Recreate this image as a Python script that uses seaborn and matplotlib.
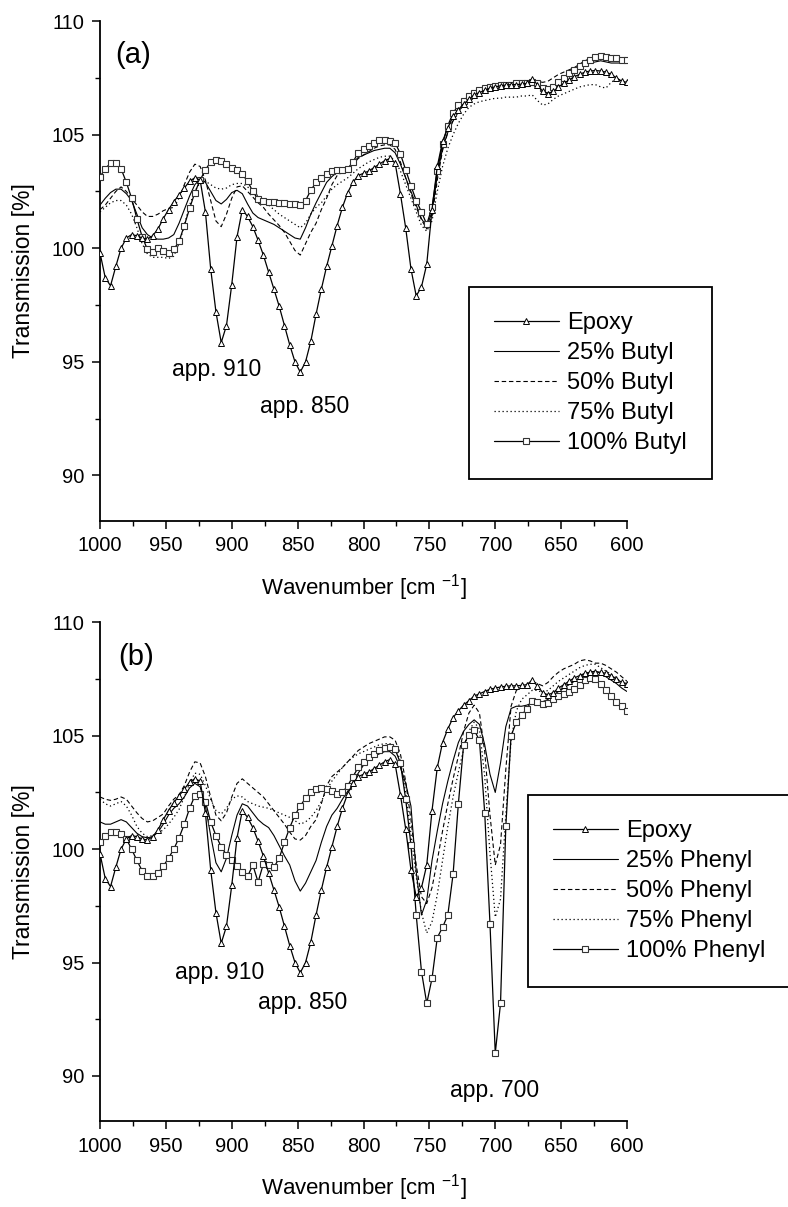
import matplotlib
matplotlib.use("Agg")
import matplotlib.pyplot as plt
import pandas as pd
import seaborn as sns
from matplotlib.ticker import MultipleLocator

# Wavenumber grid of the FTIR spectra (cm^-1), 4 cm^-1 spacing
WAVENUMBER = list(range(1000, 599, -4))

# Transmission [%] per sample, one value per wavenumber above
EPOXY = [
    99.8, 98.7, 98.35, 99.2, 100.0, 100.45, 100.6, 100.55, 100.45, 100.4,
    100.55, 100.85, 101.3, 101.7, 102.05, 102.35, 102.65, 102.95, 103.1, 103.0,
    101.6, 99.1, 97.2, 95.85, 96.6, 98.4, 100.5, 101.7, 101.4, 100.95,
    100.35, 99.7, 98.95, 98.2, 97.45, 96.6, 95.75, 95.0, 94.55, 95.0,
    95.9, 97.1, 98.2, 99.2, 100.1, 101.0, 101.8, 102.45, 102.9, 103.2,
    103.3, 103.4, 103.55, 103.7, 103.85, 103.95, 103.75, 102.4, 100.9, 99.1,
    97.9, 98.3, 99.3, 101.7, 103.6, 104.7, 105.3, 105.8, 106.1, 106.35,
    106.55, 106.75, 106.85, 106.95, 107.05, 107.1, 107.15, 107.18, 107.2, 107.2,
    107.22, 107.25, 107.45, 107.2, 106.9, 106.8, 106.9, 107.1, 107.25, 107.4,
    107.55, 107.65, 107.75, 107.8, 107.82, 107.8, 107.75, 107.65, 107.5, 107.35,
    107.3,
]

BUTYL_25 = [
    101.9, 102.2, 102.45, 102.6, 102.6, 102.4, 102.1, 101.5, 100.9, 100.6,
    100.45, 100.4, 100.4, 100.45, 100.6, 101.1, 101.7, 102.3, 102.8, 103.05,
    102.9, 102.5, 102.1, 101.95, 102.15, 102.45, 102.55, 102.4, 101.95, 101.55,
    101.35, 101.25, 101.15, 101.05, 100.9, 100.75, 100.6, 100.45, 100.4, 100.9,
    101.5, 102.0, 102.45, 102.9, 103.15, 103.35, 103.4, 103.5, 103.75, 104.0,
    104.1, 104.2, 104.3, 104.35, 104.4, 104.4, 104.2, 103.7, 103.1, 102.5,
    101.9, 101.3, 100.95, 101.6, 103.2, 104.4, 105.1, 105.6, 106.0, 106.35,
    106.6, 106.75, 106.9, 107.0, 107.05, 107.1, 107.15, 107.15, 107.2, 107.2,
    107.2, 107.2, 107.25, 107.2, 107.0, 106.95, 107.1, 107.3, 107.45, 107.65,
    107.8, 107.95, 108.05, 108.15, 108.2, 108.25, 108.2, 108.15, 108.15, 108.15,
    108.15,
]

BUTYL_50 = [
    101.7, 101.9, 102.2, 102.5, 102.7, 102.5, 102.2, 101.9, 101.6, 101.4,
    101.4, 101.5, 101.65, 101.75, 101.8, 102.2, 102.8, 103.35, 103.7, 103.6,
    103.0, 102.1, 101.2, 100.95, 101.5, 102.2, 102.7, 102.75, 102.5, 102.25,
    102.0, 101.8, 101.5, 101.25, 101.0, 100.7, 100.3, 99.9, 99.7, 100.2,
    100.7, 101.1, 101.7, 102.2, 102.8, 103.2, 103.35, 103.45, 103.7, 103.95,
    104.1, 104.25, 104.4, 104.5, 104.55, 104.55, 104.35, 103.8, 103.1, 102.4,
    101.8, 101.25, 100.85, 101.4, 103.0, 104.3, 105.1, 105.65, 106.05, 106.35,
    106.6, 106.8, 106.95, 107.05, 107.1, 107.15, 107.2, 107.2, 107.25, 107.3,
    107.3, 107.3, 107.35, 107.35, 107.3, 107.35, 107.5, 107.65, 107.75, 107.85,
    107.95, 108.1, 108.25, 108.35, 108.45, 108.5, 108.45, 108.4, 108.35, 108.3,
    108.3,
]

BUTYL_75 = [
    101.6, 101.8, 102.0, 102.1, 102.1, 101.9, 101.5, 100.9, 100.2, 99.75,
    99.6, 99.6, 99.6, 99.55, 99.65, 100.2, 101.0, 101.9, 102.5, 102.9,
    102.95, 102.8, 102.65, 102.6, 102.65, 102.8, 102.85, 102.85, 102.7, 102.5,
    102.3, 102.1, 101.9, 101.7, 101.5, 101.35, 101.2, 101.05, 100.9, 101.1,
    101.5, 101.8, 102.0, 102.3, 102.6, 102.8, 102.95, 103.1, 103.3, 103.5,
    103.65, 103.8, 103.9, 104.0, 104.05, 104.05, 103.85, 103.4, 102.8, 102.2,
    101.6, 101.0, 100.75, 101.2, 102.5, 103.6, 104.4, 105.0, 105.5, 105.9,
    106.2, 106.35, 106.45, 106.5, 106.55, 106.6, 106.6, 106.65, 106.65, 106.65,
    106.7, 106.7, 106.75, 106.5, 106.3, 106.35, 106.55, 106.7, 106.8, 106.9,
    107.0, 107.1, 107.15, 107.2, 107.2, 107.1, 107.05, 107.3, 107.45, 107.35,
    107.3,
]

BUTYL_100 = [
    103.15, 103.5, 103.75, 103.75, 103.5, 102.9, 102.2, 101.3, 100.5, 99.95,
    99.85, 100.0, 99.9, 99.8, 99.95, 100.3, 101.0, 101.75, 102.45, 103.0,
    103.45, 103.8, 103.9, 103.85, 103.7, 103.55, 103.45, 103.25, 102.95, 102.5,
    102.15, 102.1, 102.05, 102.05, 102.0, 102.0, 101.95, 101.95, 101.9, 102.1,
    102.55, 102.9, 103.1, 103.25, 103.4, 103.45, 103.45, 103.5, 103.8, 104.2,
    104.35, 104.5, 104.65, 104.75, 104.75, 104.7, 104.65, 104.15, 103.45, 102.75,
    102.1, 101.6, 101.05, 101.8, 103.4, 104.6, 105.4, 105.95, 106.3, 106.5,
    106.7, 106.85, 106.95, 107.05, 107.1, 107.15, 107.2, 107.2, 107.2, 107.25,
    107.25, 107.25, 107.3, 107.25, 107.05, 107.0, 107.1, 107.3, 107.5, 107.7,
    107.85, 108.0, 108.15, 108.3, 108.4, 108.45, 108.4, 108.35, 108.35, 108.3,
    108.3,
]

PHENYL_25 = [
    101.2, 101.1, 101.1, 101.2, 101.3, 101.2, 100.95, 100.7, 100.55, 100.5,
    100.55, 100.75, 101.1, 101.5, 101.8, 102.0, 102.3, 102.7, 102.9, 102.75,
    101.9, 100.6, 99.4, 99.0, 99.6, 100.6, 101.5, 102.0, 101.9, 101.6,
    101.3, 101.1, 100.95, 100.6, 100.15, 99.7, 99.3, 98.6, 98.15, 98.5,
    99.0, 99.5, 100.3, 101.0, 101.5, 101.8, 102.2, 102.55, 102.95, 103.35,
    103.7, 103.95, 104.1, 104.2, 104.3, 104.3, 104.1, 103.6, 102.9, 101.9,
    99.0, 97.1, 97.75, 99.5, 100.8, 102.0, 103.0, 103.9, 104.7, 105.2,
    105.5, 105.7, 105.5, 104.6, 103.3, 102.5, 103.8, 105.4, 106.2, 106.3,
    106.3, 106.35, 106.45, 106.5, 106.5, 106.6, 106.8, 106.95, 107.1, 107.25,
    107.4, 107.55, 107.7, 107.8, 107.85, 107.75, 107.6, 107.45, 107.3, 107.1,
    106.95,
]

PHENYL_50 = [
    102.3, 102.2, 102.15, 102.2, 102.3, 102.2, 101.9, 101.6, 101.35, 101.2,
    101.25, 101.4, 101.55, 101.9, 102.2, 102.4, 102.8, 103.4, 103.85, 103.8,
    103.2, 102.3, 101.5, 101.25, 101.6, 102.3, 102.9, 103.1, 102.9, 102.7,
    102.5, 102.3, 102.0, 101.7, 101.4, 101.1, 100.75, 100.45, 100.4, 100.6,
    101.0, 101.3, 102.0, 102.8, 103.2, 103.4, 103.6, 103.85, 104.1, 104.35,
    104.5, 104.65, 104.75, 104.85, 104.95, 104.95, 104.8, 104.2, 103.0, 101.3,
    99.3, 97.9, 97.6, 98.3, 99.5, 100.8, 102.0, 103.1, 104.1, 105.2,
    106.0, 106.35, 106.0, 104.3, 101.5, 99.3, 100.2, 103.5, 106.3, 107.0,
    107.15, 107.25, 107.4, 107.3, 107.2, 107.35, 107.6, 107.8, 107.95, 108.05,
    108.15, 108.3, 108.35, 108.3, 108.2, 108.2, 108.1, 107.95, 107.8, 107.6,
    107.4,
]

PHENYL_75 = [
    102.2, 102.0, 101.9, 102.0, 102.1, 101.9, 101.5, 101.0, 100.7, 100.55,
    100.6, 100.7, 100.85, 101.1, 101.4, 101.75, 102.3, 102.9, 103.35, 103.3,
    102.8, 102.2, 101.7, 101.55, 101.8, 102.2, 102.35, 102.3, 102.1, 102.0,
    101.9, 101.85, 101.8, 101.7, 101.6, 101.5, 101.4, 101.25, 101.1, 101.2,
    101.4, 101.7, 102.1, 102.6, 103.0, 103.3, 103.6, 103.85, 104.05, 104.2,
    104.3, 104.4, 104.5, 104.6, 104.65, 104.65, 104.5, 103.9, 102.5, 100.7,
    98.8, 97.2, 96.3, 96.8, 98.0, 99.5, 101.0, 102.3, 103.4, 104.4,
    105.2, 105.6, 105.3, 103.2, 99.8, 97.0, 97.8, 101.5, 104.8, 106.1,
    106.6, 106.8, 107.0, 107.0, 106.9, 107.0, 107.2, 107.4, 107.55, 107.7,
    107.85, 108.0, 108.1, 108.15, 108.15, 108.0, 107.85, 107.7, 107.55, 107.35,
    107.2,
]

PHENYL_100 = [
    100.3, 100.6, 100.75, 100.75, 100.65, 100.45, 100.0, 99.5, 99.05, 98.8,
    98.8, 98.95, 99.25, 99.6, 100.0, 100.5, 101.1, 101.8, 102.35, 102.45,
    102.1, 101.2, 100.6, 100.1, 99.75, 99.5, 99.25, 99.0, 98.8, 99.3,
    98.55, 99.35, 99.3, 99.2, 99.6, 100.3, 100.95, 101.5, 101.9, 102.25,
    102.5, 102.65, 102.7, 102.65, 102.55, 102.45, 102.5, 102.8, 103.2, 103.6,
    103.85, 104.05, 104.2, 104.35, 104.45, 104.5, 104.4, 103.8, 102.2, 100.2,
    97.1, 94.6, 93.2, 94.3, 96.1, 96.55, 97.1, 98.9, 102.0, 104.6,
    105.05, 105.25, 104.8, 101.6, 96.7, 91.0, 93.2, 101.0, 105.0, 105.6,
    105.9, 106.2, 106.55, 106.5, 106.4, 106.45, 106.6, 106.75, 106.85, 106.95,
    107.05, 107.25, 107.45, 107.55, 107.5, 107.3, 107.0, 106.75, 106.5, 106.3,
    106.1,
]

LEGEND_ORDER_A = ["Epoxy", "25% Butyl", "50% Butyl", "75% Butyl", "100% Butyl"]
LEGEND_ORDER_B = ["Epoxy", "25% Phenyl", "50% Phenyl", "75% Phenyl", "100% Phenyl"]

sns.set_theme(style="ticks")
plt.rcParams["font.family"] = ["Liberation Sans", "DejaVu Sans"]
plt.rcParams["mathtext.fontset"] = "custom"
plt.rcParams["mathtext.rm"] = "Liberation Sans"
plt.rcParams["mathtext.default"] = "regular"
plt.rcParams["text.color"] = "black"
plt.rcParams["axes.labelcolor"] = "black"
plt.rcParams["xtick.color"] = "black"
plt.rcParams["ytick.color"] = "black"
plt.rcParams["axes.edgecolor"] = "black"

LINE_STYLES = {
    "epoxy": dict(color="black", linewidth=0.9, marker="^", markersize=5.0,
                  markerfacecolor="white", markeredgecolor="black",
                  markeredgewidth=0.7, zorder=5),
    "p25": dict(color="black", linewidth=0.8, linestyle="-", zorder=3),
    "p50": dict(color="black", linewidth=0.8, linestyle=(0, (4, 2.5)), zorder=3),
    "p75": dict(color="black", linewidth=0.9, linestyle=(0, (1, 2.2)), zorder=3),
    "p100": dict(color="black", linewidth=0.9, marker="s", markersize=4.2,
                 markerfacecolor="white", markeredgecolor="#333333",
                 markeredgewidth=0.8, zorder=4),
}


def draw_panel(ax, curves, order, tag, notes, legend_xy):
    for label, values, key in curves:
        frame = pd.DataFrame({"wavenumber": WAVENUMBER, "transmission": values})
        sns.lineplot(data=frame, x="wavenumber", y="transmission", ax=ax,
                     sort=False, estimator=None, label=label, legend=False,
                     **LINE_STYLES[key])

    ax.set_xlim(1000, 600)
    ax.set_ylim(88, 110)
    ax.xaxis.set_major_locator(MultipleLocator(50))
    ax.xaxis.set_minor_locator(MultipleLocator(25))
    ax.yaxis.set_major_locator(MultipleLocator(5))
    ax.yaxis.set_minor_locator(MultipleLocator(2.5))
    ax.tick_params(which="major", direction="out", length=6, width=1.1,
                   labelsize=14.5, pad=5)
    ax.tick_params(which="minor", direction="out", length=3.5, width=1.0)
    sns.despine(ax=ax)
    for side in ("left", "bottom"):
        ax.spines[side].set_linewidth(1.3)

    ax.set_xlabel("Wavenumber [cm $^{-1}$]", fontsize=16, labelpad=12)
    ax.set_ylabel("Transmission [%]", fontsize=16.5, labelpad=12)

    ax.text(tag[1], tag[2], tag[0], fontsize=21, ha="left", va="center")
    for text, x, y in notes:
        ax.text(x, y, text, fontsize=16.5, ha="left", va="baseline")

    handles, labels = ax.get_legend_handles_labels()
    lookup = dict(zip(labels, handles))
    leg = ax.legend([lookup[n] for n in order], order, loc="upper left",
                    bbox_to_anchor=legend_xy, bbox_transform=ax.figure.transFigure,
                    frameon=True, fancybox=False, shadow=False, framealpha=1,
                    edgecolor="black", fontsize=17, handlelength=2.75,
                    handletextpad=0.35, labelspacing=0.34, borderpad=1.05,
                    borderaxespad=0, numpoints=1)
    leg.get_frame().set_linewidth(1.3)
    leg.set_zorder(10)


fig = plt.figure(figsize=(7.88, 12.07), dpi=100)
ax_a = fig.add_axes([0.1269, 0.5684, 0.6688, 0.4142])
ax_b = fig.add_axes([0.1269, 0.0710, 0.6688, 0.4134])

draw_panel(
    ax_a,
    [("25% Butyl", BUTYL_25, "p25"), ("50% Butyl", BUTYL_50, "p50"),
     ("75% Butyl", BUTYL_75, "p75"), ("100% Butyl", BUTYL_100, "p100"),
     ("Epoxy", EPOXY, "epoxy")],
    LEGEND_ORDER_A,
    ("(a)", 988.6, 108.5),
    [("app. 910", 945.6, 94.4), ("app. 850", 878.6, 92.74)],
    (469 / 788, 1 - 287 / 1207),
)

draw_panel(
    ax_b,
    [("25% Phenyl", PHENYL_25, "p25"), ("50% Phenyl", PHENYL_50, "p50"),
     ("75% Phenyl", PHENYL_75, "p75"), ("100% Phenyl", PHENYL_100, "p100"),
     ("Epoxy", EPOXY, "epoxy")],
    LEGEND_ORDER_B,
    ("(b)", 986.3, 108.48),
    [("app. 910", 943.1, 94.26), ("app. 850", 879.8, 92.94),
     ("app. 700", 734.3, 89.07)],
    (528 / 788, 1 - 795 / 1207),
)

fig.savefig("out.png", dpi=100, facecolor="white")
